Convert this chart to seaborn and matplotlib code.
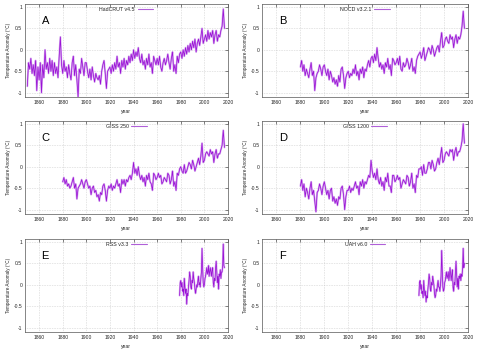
import matplotlib
matplotlib.use("Agg")
import matplotlib.pyplot as plt
import seaborn as sns
import numpy as np
import pandas as pd

# --- data (roughly one point per year, satellites half-year) ---
hadcrut_start = 1850
hadcrut = [
    -0.85, -0.30, -0.45, -0.20, -0.55, -0.35, -0.60, -0.25, -0.95, -0.40,
    -0.70, -0.30, -1.00, -0.35, -0.65, 0.00, -0.45, -0.30, -0.55, -0.20,
    -0.50, -0.25, -0.60, -0.30, -0.55, -0.40, -0.65, -0.15, 0.30, -0.35,
    -0.55, -0.25, -0.50, -0.40, -0.65, -0.35, -0.55, -0.70, -0.30, -0.15,
    -0.60, -0.35, -0.70, -1.10, -0.45, -0.55, -0.20, -0.40, -0.60, -0.30,
    -0.30, -0.50, -0.65, -0.45, -0.70, -0.40, -0.60, -0.75, -0.55, -0.65,
    -0.70, -0.60, -0.80, -0.50, -0.35, -0.25, -0.55, -0.90, -0.50, -0.45,
    -0.40, -0.55, -0.35, -0.50, -0.30, -0.45, -0.15, -0.40, -0.30, -0.55,
    -0.25, -0.40, -0.20, -0.45, -0.25, -0.35, -0.15, -0.30, -0.10, -0.25,
    0.00, -0.20, -0.05, -0.15, 0.05, -0.20, -0.30, -0.10, -0.35, -0.25,
    -0.45, -0.20, -0.35, -0.10, -0.40, -0.30, -0.55, -0.15, -0.25, -0.35,
    -0.20, -0.35, -0.15, -0.40, -0.50, -0.30, -0.20, -0.35, -0.25, -0.10,
    -0.30, -0.45, -0.20, -0.05, -0.50, -0.35, -0.55, -0.15, -0.30, -0.10,
    -0.05, -0.20, 0.00, -0.15, 0.05, -0.10, 0.10, -0.05, 0.15, 0.00,
    0.20, 0.05, 0.25, -0.05, 0.15, 0.25, 0.10, 0.30, 0.50, 0.15,
    0.25, 0.35, 0.20, 0.45, 0.25, 0.40, 0.30, 0.45, 0.15, 0.35,
    0.45, 0.20, 0.35, 0.30, 0.45, 0.55, 0.95, 0.50,
]

noaa_start = 1880
noaa = [
    -0.40, -0.25, -0.50, -0.35, -0.60, -0.45, -0.55, -0.65, -0.45, -0.30,
    -0.60, -0.50, -0.95, -0.65, -0.55, -0.50, -0.35, -0.45, -0.60, -0.40,
    -0.35, -0.50, -0.60, -0.45, -0.70, -0.50, -0.60, -0.75, -0.65, -0.80,
    -0.70, -0.85, -0.60, -0.75, -0.45, -0.40, -0.60, -0.90, -0.65, -0.55,
    -0.50, -0.65, -0.55, -0.60, -0.45, -0.55, -0.35, -0.60, -0.50, -0.70,
    -0.45, -0.55, -0.40, -0.65, -0.45, -0.50, -0.35, -0.25, -0.40, -0.20,
    -0.15, -0.30, -0.10, -0.25, 0.05, -0.20, -0.40, -0.30, -0.45, -0.35,
    -0.55, -0.30, -0.40, -0.20, -0.45, -0.35, -0.60, -0.20, -0.25, -0.35,
    -0.30, -0.20, -0.35, -0.15, -0.45, -0.50, -0.30, -0.40, -0.35, -0.20,
    -0.30, -0.45, -0.35, -0.20, -0.50, -0.40, -0.55, -0.25, -0.15, -0.10,
    -0.05, -0.20, -0.10, 0.05, -0.25, -0.15, -0.05, 0.05, 0.00, -0.10,
    0.10, 0.00, -0.15, -0.05, 0.05, 0.10, -0.05, 0.20, 0.40, 0.05,
    0.10, 0.25, 0.30, 0.20, 0.15, 0.35, 0.25, 0.30, 0.05, 0.25,
    0.35, 0.15, 0.30, 0.25, 0.35, 0.55, 0.90, 0.50,
]

giss250_start = 1880
giss250 = [
    -0.35, -0.25, -0.40, -0.30, -0.45, -0.40, -0.50, -0.45, -0.35, -0.25,
    -0.50, -0.40, -0.75, -0.50, -0.45, -0.40, -0.30, -0.40, -0.50, -0.35,
    -0.30, -0.40, -0.50, -0.45, -0.65, -0.50, -0.45, -0.60, -0.55, -0.70,
    -0.65, -0.80, -0.60, -0.65, -0.45, -0.40, -0.55, -0.80, -0.55, -0.45,
    -0.50, -0.40, -0.55, -0.45, -0.50, -0.40, -0.30, -0.45, -0.40, -0.60,
    -0.30, -0.40, -0.30, -0.45, -0.30, -0.35, -0.25, -0.20, -0.30, -0.15,
    0.10, -0.15, -0.05, -0.20, 0.00, -0.20, -0.30, -0.20, -0.35, -0.25,
    -0.45, -0.20, -0.30, -0.15, -0.35, -0.40, -0.55, -0.15, -0.20, -0.30,
    -0.25, -0.15, -0.25, -0.20, -0.40, -0.35, -0.25, -0.30, -0.35, -0.15,
    -0.20, -0.40, -0.30, -0.10, -0.45, -0.35, -0.55, -0.15, -0.20, -0.05,
    0.00, -0.10, -0.15, 0.05, -0.15, -0.10, 0.00, 0.10, 0.05, -0.05,
    0.15, 0.05, -0.10, 0.00, 0.10, 0.20, 0.05, 0.25, 0.55, 0.10,
    0.15, 0.30, 0.35, 0.30, 0.25, 0.40, 0.30, 0.35, 0.10, 0.30,
    0.40, 0.20, 0.30, 0.30, 0.40, 0.50, 0.85, 0.45,
]

giss1200_start = 1880
giss1200 = [
    -0.45, -0.30, -0.55, -0.40, -0.70, -0.50, -0.60, -0.75, -0.50, -0.35,
    -0.65, -0.55, -0.80, -1.05, -0.60, -0.55, -0.40, -0.50, -0.65, -0.45,
    -0.35, -0.50, -0.65, -0.55, -0.75, -0.55, -0.50, -0.80, -0.70, -0.85,
    -0.75, -0.90, -0.70, -0.75, -0.50, -0.45, -0.65, -1.00, -0.70, -0.55,
    -0.55, -0.45, -0.60, -0.50, -0.55, -0.45, -0.35, -0.50, -0.45, -0.65,
    -0.35, -0.45, -0.30, -0.50, -0.35, -0.40, -0.30, -0.20, -0.25, 0.15,
    -0.10, -0.25, -0.15, -0.30, -0.05, -0.30, -0.40, -0.25, -0.45, -0.35,
    -0.55, -0.25, -0.35, -0.15, -0.45, -0.45, -0.60, -0.20, -0.20, -0.35,
    -0.30, -0.20, -0.30, -0.25, -0.50, -0.40, -0.30, -0.35, -0.40, -0.20,
    -0.25, -0.45, -0.35, -0.15, -0.50, -0.40, -0.60, -0.20, -0.25, -0.05,
    -0.05, 0.00, -0.20, 0.05, -0.15, -0.15, -0.05, 0.10, 0.10, -0.05,
    0.15, 0.05, -0.10, -0.05, 0.10, 0.20, 0.05, 0.25, 0.45, 0.10,
    0.15, 0.30, 0.35, 0.30, 0.25, 0.40, 0.35, 0.40, 0.15, 0.35,
    0.45, 0.25, 0.35, 0.35, 0.45, 0.60, 1.00, 0.55,
]

rss_start = 1979
rss = [
    -0.25, 0.05, 0.10, -0.05, 0.05, -0.15, -0.10, -0.25, 0.15, -0.05,
    -0.20, -0.10, -0.45, -0.20, -0.25, -0.05, 0.10, 0.30, 0.20, -0.05,
    -0.10, 0.10, 0.05, 0.30, 0.15, 0.05, -0.10, -0.20, -0.10, 0.00,
    -0.05, 0.10, 0.20, 0.00, 0.05, -0.05, 0.15, 0.30, 0.85, 0.40,
    0.05, -0.05, 0.00, 0.15, 0.20, 0.30, 0.40, 0.25, 0.30, 0.45,
    0.20, 0.30, 0.40, 0.30, 0.20, 0.35, 0.40, 0.05, -0.05, 0.15,
    0.10, 0.40, 0.55, 0.30, 0.05, 0.20, -0.10, 0.25, 0.20, 0.35,
    0.15, 0.30, 0.30, 0.45, 0.95, 0.45, 0.40,
]

uah_start = 1979
uah = [
    -0.25, 0.05, 0.10, -0.10, 0.00, -0.20, -0.15, -0.30, 0.10, -0.10,
    -0.25, -0.15, -0.40, -0.25, -0.30, -0.10, 0.05, 0.25, 0.15, -0.10,
    -0.15, 0.05, 0.00, 0.20, 0.10, 0.00, -0.20, -0.30, -0.25, -0.10,
    -0.15, 0.00, 0.10, -0.05, -0.05, -0.15, 0.00, 0.20, 0.80, 0.35,
    -0.05, -0.15, -0.10, 0.05, 0.10, 0.20, 0.30, 0.15, 0.20, 0.30,
    0.10, 0.20, 0.40, 0.25, 0.10, 0.25, 0.35, -0.05, -0.15, 0.05,
    0.00, 0.30, 0.55, 0.25, -0.05, 0.15, -0.10, 0.20, 0.15, 0.25,
    0.10, 0.25, 0.20, 0.40, 0.85, 0.40, 0.50,
]

panels = [
    ("A", "HadCRUT v4.5", hadcrut_start, 1.0, hadcrut),
    ("B", "NOCD v3.2.1", noaa_start, 1.0, noaa),
    ("C", "GISS 250", giss250_start, 1.0, giss250),
    ("D", "GISS 1200", giss1200_start, 1.0, giss1200),
    ("E", "RSS v3.3", rss_start, 0.5, rss),
    ("F", "UAH v6.0", uah_start, 0.5, uah),
]

xticks = [1860, 1880, 1900, 1920, 1940, 1960, 1980, 2000, 2020]
yticks = [-1, -0.5, 0, 0.5, 1]
ytick_labels = ["-1", "-0.5", "0", "0.5", "1"]

# axes boxes in figure fraction (left, bottom, width, height)
col_left = [0.052, 0.546]
col_width = [0.423, 0.429]
row_bottom = [0.7275, 0.399, 0.0674]
row_height = 0.2615

dark = "#9400d3"
light = "#d8aef0"

sns.set_style("white")
plt.rcParams["font.family"] = ["Liberation Sans", "DejaVu Sans"]

fig = plt.figure(figsize=(4.8, 3.56), dpi=100)

for i, (letter, name, start, step, values) in enumerate(panels):
    r, c = divmod(i, 2)
    ax = fig.add_axes([col_left[c], row_bottom[r], col_width[c], row_height])
    df = pd.DataFrame({"year": start + step * np.arange(len(values)), "anom": values})
    # light halo under the dark trace gives the fuzzy band of the original
    sns.lineplot(data=df, x="year", y="anom", ax=ax, color=light,
                 linewidth=1.4, label=name)
    sns.lineplot(data=df, x="year", y="anom", ax=ax, color=dark,
                 linewidth=0.55, alpha=0.9, legend=False)

    ax.set_xlim(1848, 2020)
    ax.set_ylim(-1.1, 1.07)
    ax.set_xticks(xticks)
    ax.set_xticklabels([str(t) for t in xticks], fontsize=3.6)
    ax.set_yticks(yticks)
    ax.set_yticklabels(ytick_labels, fontsize=3.6)
    ax.tick_params(direction="in", length=2, width=0.4, top=True, right=True, pad=2)
    ax.grid(True, color="#b0b0b0", linestyle=(0, (1, 2)), linewidth=0.4)
    for sp in ax.spines.values():
        sp.set_color("#555555")
        sp.set_linewidth(0.5)

    ax.set_xlabel("year", fontsize=3.6, labelpad=3)
    ax.set_ylabel("Temperature Anomaly (\u00b0C)", fontsize=3.3, labelpad=2)

    ax.text(1862, 0.68, letter, fontsize=8, color="black", va="center", ha="left")

    leg = ax.legend(loc="upper center", frameon=False, fontsize=3.8,
                    markerfirst=False, handlelength=3, borderaxespad=0.2,
                    handletextpad=0.5)
    for h in leg.get_lines():
        h.set_color("#b060d8")
        h.set_linewidth(0.8)

fig.savefig("out.png", dpi=100)
